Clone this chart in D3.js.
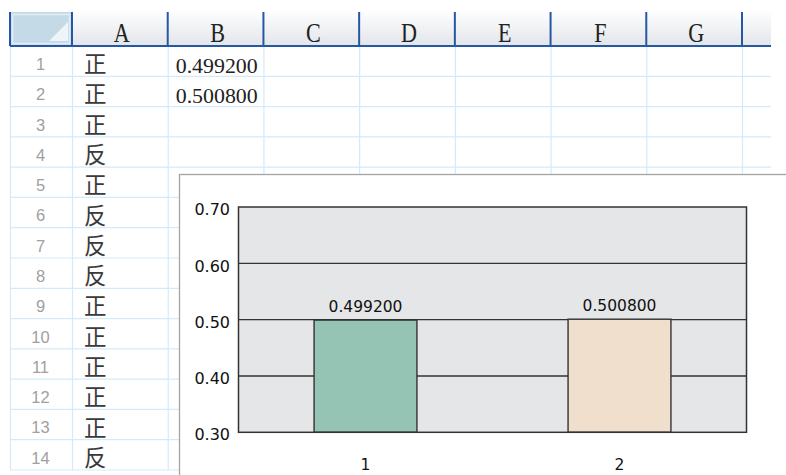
<!DOCTYPE html>
<html><head><meta charset="utf-8">
<script src="https://cdn.jsdelivr.net/npm/d3@7/dist/d3.min.js"></script>
<style>html,body{margin:0;padding:0;background:#fff;overflow:hidden}</style>
</head><body><svg id="c" width="786" height="475"></svg>
<script>
// ---- sheet data ----
const columns = ["A", "B", "C", "D", "E", "F", "G"];
const rowNumbers = ["1","2","3","4","5","6","7","8","9","10","11","12","13","14"];
const colA = ["正","正","正","反","正","反","反","反","正","正","正","正","正","反"];
const colB = ["0.499200", "0.500800"];
// ---- chart data ----
const categories = ["1", "2"];
const values = [0.4992, 0.5008];
const valueLabels = ["0.499200", "0.500800"];
const yTicks = [0.30, 0.40, 0.50, 0.60, 0.70];
const barColors = ["#95c4b4", "#f0dfcd"];

const svg = d3.select("#c");

// ===== spreadsheet =====
const sheetLeft = 10, rowHdrRight = 72, sheetRight = 771;
const colX = d3.scaleBand().domain(columns).range([72, 742]);
const rowY = d3.scaleBand().domain(rowNumbers).range([46, 470]);
const hdrTop = 12, hdrBottom = 46;

const defs = svg.append("defs");
const g1 = defs.append("linearGradient").attr("id", "hdr").attr("x1", 0).attr("x2", 0).attr("y1", 0).attr("y2", 1);
g1.append("stop").attr("offset", "0").attr("stop-color", "#fdfdfe");
g1.append("stop").attr("offset", "1").attr("stop-color", "#e2e5e9");

// grid lines
const grid = svg.append("g").attr("stroke", "#d3eaf8").attr("stroke-width", 1.2);
grid.selectAll("line.h").data(rowNumbers).join("line")
  .attr("x1", sheetLeft).attr("x2", sheetRight)
  .attr("y1", d => rowY(d) + rowY.step()).attr("y2", d => rowY(d) + rowY.step());
const vxs = [sheetLeft, ...columns.map(c => colX(c)), colX(columns[columns.length-1]) + colX.step()];
grid.selectAll("line.v").data(vxs).join("line")
  .attr("x1", d => d + 0.5).attr("x2", d => d + 0.5)
  .attr("y1", hdrBottom).attr("y2", rowY.range()[1]);

// header
svg.append("rect").attr("x", rowHdrRight).attr("y", hdrTop).attr("width", sheetRight - rowHdrRight).attr("height", hdrBottom - hdrTop).attr("fill", "url(#hdr)");
svg.append("rect").attr("x", sheetLeft).attr("y", hdrTop).attr("width", rowHdrRight - sheetLeft).attr("height", hdrBottom - hdrTop).attr("fill", "#c4dae7");
svg.append("rect").attr("x", sheetLeft + 2.5).attr("y", hdrTop + 2.5).attr("width", rowHdrRight - sheetLeft - 5).attr("height", hdrBottom - hdrTop - 5).attr("fill", "none").attr("stroke", "#e2edf4").attr("stroke-width", 1.5);
svg.append("path").attr("d", `M${rowHdrRight-4},${hdrTop+10} L${rowHdrRight-4},${hdrBottom-5} L${rowHdrRight-23},${hdrBottom-5} Z`).attr("fill", "#eef4f8");

const hdrLines = svg.append("g").attr("stroke", "#2458a6").attr("stroke-width", 2);
hdrLines.selectAll("line").data(vxs).join("line")
  .attr("x1", d => d).attr("x2", d => d).attr("y1", hdrTop).attr("y2", hdrBottom);
hdrLines.append("line").attr("x1", sheetLeft).attr("x2", sheetRight).attr("y1", hdrBottom).attr("y2", hdrBottom);

svg.append("g").selectAll("text").data(columns).join("text")
  .attr("transform", d => `translate(${colX(d) + colX.bandwidth()/2 + 2},41.5) scale(0.82,1)`)
  .attr("text-anchor", "middle")
  .attr("font-family", "Liberation Serif, serif").attr("font-size", 27).attr("fill", "#222")
  .text(d => d);

// row numbers
svg.append("g").selectAll("text").data(rowNumbers).join("text")
  .attr("x", (sheetLeft + rowHdrRight) / 2 - 0.5).attr("y", d => rowY(d) + 24)
  .attr("text-anchor", "middle")
  .attr("font-family", "Liberation Sans, sans-serif").attr("font-size", 16.5).attr("fill", "#a0a0a0")
  .text(d => d);

// column A
svg.append("g").selectAll("text").data(colA).join("text")
  .attr("x", colX("A") + 12).attr("y", (d, i) => rowY(rowNumbers[i]) + rowY.step()/2 + 1)
  .attr("dominant-baseline", "central")
  .attr("font-family", "Noto Sans CJK SC, sans-serif").attr("font-weight", 400).attr("font-size", 22.5).attr("fill", "#3a3a3a")
  .text(d => d);

// column B
svg.append("g").selectAll("text").data(colB).join("text")
  .attr("x", colX("B") + 8).attr("y", (d, i) => rowY(rowNumbers[i]) + 26.5)
  .attr("font-family", "Liberation Serif, serif").attr("font-size", 20.5).attr("fill", "#222")
  .attr("textLength", 82).attr("lengthAdjust", "spacingAndGlyphs")
  .text(d => d);

// ===== chart =====
const plot = {left: 238.5, right: 746.5, top: 207, bottom: 432.3};
svg.append("rect").attr("x", 179.5).attr("y", 174.5).attr("width", 640).attr("height", 320)
  .attr("fill", "#fff").attr("stroke", "#a3a3a3").attr("stroke-width", 1.3);

const x = d3.scaleBand().domain(categories).range([plot.left, plot.right])
  .paddingInner(0.595).paddingOuter(0.2975);
const y = d3.scaleLinear().domain([0.3, 0.7]).range([plot.bottom, plot.top]);

svg.append("rect").attr("x", plot.left).attr("y", plot.top)
  .attr("width", plot.right - plot.left).attr("height", plot.bottom - plot.top)
  .attr("fill", "#e5e6e8");

svg.append("g").selectAll("line").data(yTicks.slice(1, -1)).join("line")
  .attr("x1", plot.left).attr("x2", plot.right)
  .attr("y1", d => y(d)).attr("y2", d => y(d))
  .attr("stroke", "#333").attr("stroke-width", 1.4);

svg.append("g").selectAll("rect").data(values).join("rect")
  .attr("x", (d, i) => x(categories[i])).attr("width", x.bandwidth())
  .attr("y", d => y(d)).attr("height", d => y(0.3) - y(d))
  .attr("fill", (d, i) => barColors[i]).attr("stroke", "#333").attr("stroke-width", 1.4);

svg.append("rect").attr("x", plot.left).attr("y", plot.top)
  .attr("width", plot.right - plot.left).attr("height", plot.bottom - plot.top)
  .attr("fill", "none").attr("stroke", "#333").attr("stroke-width", 1.5);

svg.append("g").selectAll("text").data(values).join("text")
  .attr("x", (d, i) => x(categories[i]) + x.bandwidth()/2).attr("y", d => y(d) - 8)
  .attr("text-anchor", "middle")
  .attr("font-family", "DejaVu Sans, sans-serif").attr("font-size", 15.5).attr("fill", "#111")
  .text((d, i) => valueLabels[i]);

const yAxis = svg.append("g").attr("transform", `translate(${plot.left},0)`)
  .call(d3.axisLeft(y).tickValues(yTicks).tickFormat(d3.format(".2f")).tickSize(0).tickPadding(8.5));
yAxis.select(".domain").remove();
yAxis.selectAll("text").attr("dy", "0.48em").attr("font-family", "DejaVu Sans, sans-serif").attr("font-size", 16).attr("fill", "#111");

const xAxis = svg.append("g").attr("transform", `translate(0,${plot.bottom})`)
  .call(d3.axisBottom(x).tickSize(0).tickPadding(26.5));
xAxis.select(".domain").remove();
xAxis.selectAll("text").attr("font-family", "DejaVu Sans, sans-serif").attr("font-size", 15.5).attr("fill", "#111");
</script></body></html>
